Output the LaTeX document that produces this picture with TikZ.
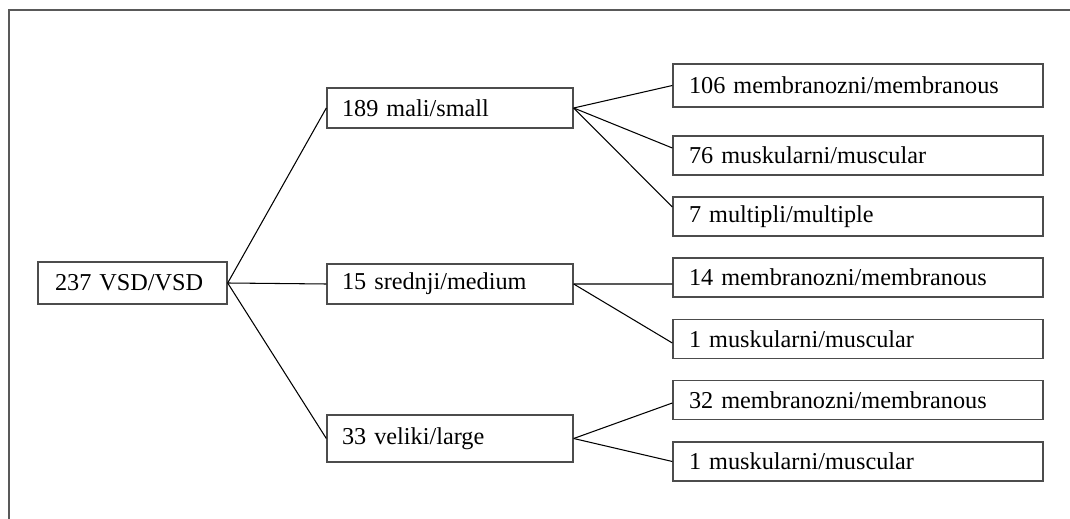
\documentclass[tikz,border=0pt]{standalone}
\usepackage{fontspec}
\setmainfont{Liberation Serif}
\usepackage{tikz}
\usetikzlibrary{positioning}

\begin{document}
\begin{tikzpicture}[x=0.02cm, y=-0.02cm,
  every node/.style={draw=black!70, line width=0.8pt, rectangle, align=left, font=\fontsize{13.8}{16}\selectfont},
  rootbox/.style={minimum height=0.84cm, inner xsep=0.34cm, text width=3.1cm},
  sizebox/.style={minimum height=0.8cm, inner xsep=0.3cm, text width=4.32cm},
  typebox/.style={minimum height=0.78cm, inner xsep=0.32cm, text width=6.76cm}]
              \useasboundingbox (0,0) rectangle (1070,519);
              % Okvir
              \draw[black!65, line width=1.1pt] (9,519) |- (1070,10);

              % Nodos
              \node[rootbox] (vsd) at (132.5,283) {237 VSD/VSD};
              \node[sizebox] (small) at (450,108) {189 mali/small};
              \node[sizebox] (medium) at (450,284) {15 srednji/medium};
              \node[sizebox, minimum height=0.94cm] (large) at (450,438.5) {33 veliki/large};
              \node[typebox, minimum height=0.86cm] (smem) at (858,85.5) {106 membranozni/membranous};
              \node[typebox] (smus) at (858,155.5) {76 muskularni/muscular};
              \node[typebox] (smul) at (858,216.5) {7 multipli/multiple};
              \node[typebox] (mmem) at (858,277.5) {14 membranozni/membranous};
              \node[typebox] (mmus) at (858,339) {1 muskularni/muscular};
              \node[typebox] (lmem) at (858,400) {32 membranozni/membranous};
              \node[typebox] (lmus) at (858,461.5) {1 muskularni/muscular};

              % Aristas
              \draw[line width=0.6pt] (vsd.east) -- (small.west);
              \draw[line width=0.6pt] (vsd.east) -- (medium.west);
              \draw[line width=0.6pt] (vsd.east) -- (large.west);
              \draw[line width=0.6pt] (small.east) -- (smem.west);
              \draw[line width=0.6pt] (small.east) -- ([yshift=0.15cm]smus.west);
              \draw[line width=0.6pt] (small.east) -- ([yshift=0.19cm]smul.west);
              \draw[line width=0.6pt] (medium.east) -- ([yshift=-0.13cm]mmem.west);
              \draw[line width=0.6pt] (medium.east) -- ([yshift=-0.08cm]mmus.west);
              \draw[line width=0.6pt] (large.east) -- ([yshift=-0.06cm]lmem.west);
              \draw[line width=0.6pt] (large.east) -- (lmus.west);
            \end{tikzpicture}
\end{document}
